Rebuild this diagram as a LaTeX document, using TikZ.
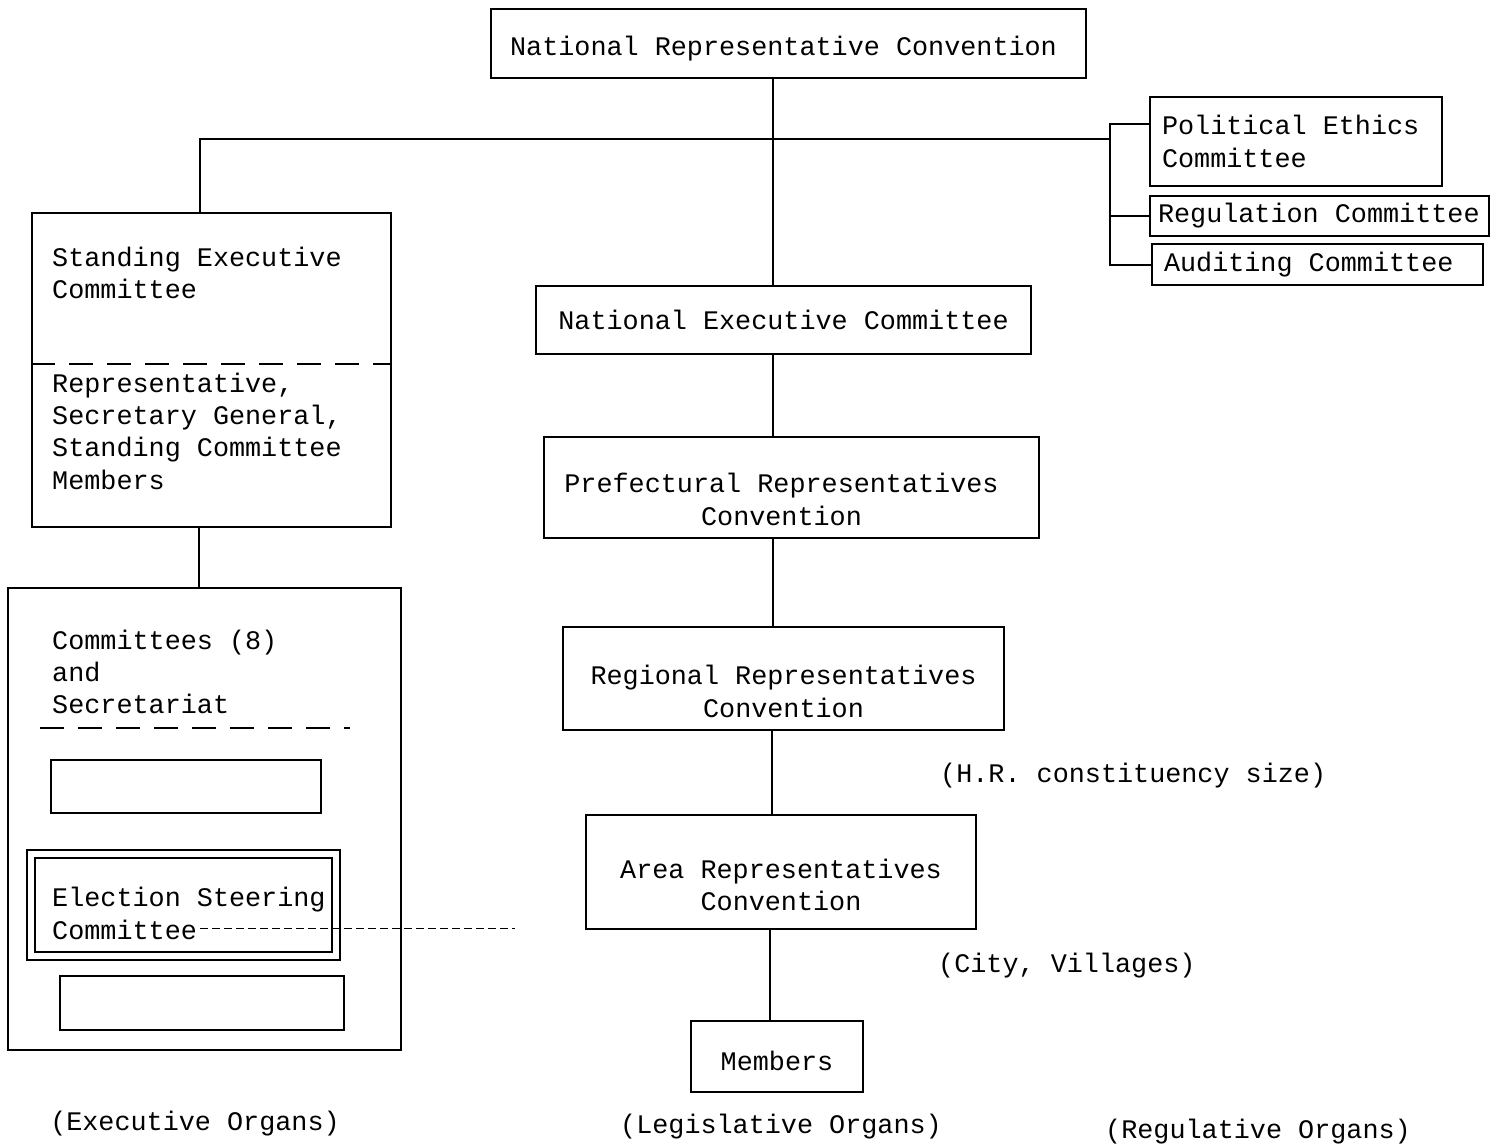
\documentclass[tikz,border=0pt]{standalone}
\usepackage{fontspec}
\newfontfamily\typewr[WordSpace={1,0,0}]{Liberation Mono}
\newcommand{\orgfont}{\fontsize{26.8}{32.3}\selectfont\typewr}
\tikzset{
  organ/.style={draw, line width=2pt, inner sep=0pt, align=center, font=\orgfont},
  leftorgan/.style={draw, line width=2pt, inner ysep=0pt, inner xsep=12pt, align=flush left, font=\orgfont},
  lbl/.style={inner sep=0pt, align=left, anchor=west, font=\orgfont},
  caption/.style={inner sep=0pt, align=center, font=\orgfont},
  link/.style={line width=2pt},
  divider/.style={line width=2pt, dash pattern=on 24pt off 14pt},
}
\begin{document}
\begin{tikzpicture}[x=1pt,y=-1pt]
    \useasboundingbox (0,0) rectangle (1503,1146);

    % Legislative organs
    \node[organ, minimum width=595, minimum height=69] (nrc) at (788.5,43.5) {};
    \node[caption] (nrctext) at ([xshift=-5pt,yshift=-5pt]nrc) {National Representative Convention};
    \node[organ, minimum width=495, minimum height=68] (nec) at (783.5,320) {National Executive Committee};
    \node[organ, minimum width=495, minimum height=101] (prc) at (791.5,487.5) {};
    \node[caption] (prctext) at ([xshift=-10pt,yshift=-12pt]prc) {Prefectural Representatives\\Convention};
    \node[organ, minimum width=441, minimum height=103] (rrc) at (783.5,678.5) {};
    \node[caption] (rrctext) at ([yshift=-13pt]rrc) {Regional Representatives\\Convention};
    \node[organ, minimum width=390, minimum height=114] (arc) at (781,872) {};
    \node[caption] (arctext) at ([yshift=-13pt]arc) {Area Representatives\\Convention};
    \node[organ, minimum width=172, minimum height=71] (mem) at (777,1056.5) {};
    \node[caption] (memtext) at ([yshift=-4pt]mem) {Members};

    \coordinate (spine) at (773,0);
    \draw[link] (spine |- nrc.south) -- (spine |- nec.north);
    \draw[link] (spine |- nec.south) -- (spine |- prc.north);
    \draw[link] (spine |- prc.south) -- (spine |- rrc.north);
    \draw[link] ([xshift=-12pt]rrc.south) -- ([xshift=-12pt]rrc.south |- arc.north);
    \draw[link] ([xshift=-11pt]arc.south) -- ([xshift=-11pt]arc.south |- mem.north);

    \node[lbl] (hr) at (940,776) {(H.R. constituency size)};
    \node[lbl] (city) at (938,966) {(City, Villages)};

    % Regulative organs
    \node[leftorgan, text width=268, minimum height=89] (pec) at (1296,141.5) {Political Ethics\\Committee};
    \node[leftorgan, inner xsep=8pt, text width=323, minimum height=40] (reg) at (1319.5,216) {Regulation Committee};
    \node[leftorgan, text width=307, minimum height=41] (aud) at (1317.5,264.5) {Auditing Committee};

    \coordinate (brk) at (1110,139);
    \draw[link] ([yshift=18pt]pec.west) -| (aud.west -| brk) -- (aud.west);
    \draw[link] (reg.west -| brk) -- (reg.west);

    % Executive organs
    \node[draw, link, minimum width=359, minimum height=314] (sec) at (211.5,370) {};
    \draw[divider] ([yshift=6pt]sec.west) -- ([yshift=6pt]sec.east);
    \node[lbl] (sectitle) at (52,273) {Standing Executive\\Committee};
    \node[lbl] (secmembers) at (52,431) {Representative,\\Secretary General,\\Standing Committee\\Members};

    \draw[link] ([xshift=-12pt]sec.north) |- (brk);

    \node[draw, link, minimum width=393, minimum height=462] (cmt) at (204.5,819) {};
    \draw[link] ([xshift=-13pt]sec.south) -- ([xshift=-13pt]sec.south |- cmt.north);
    \node[lbl] (cmttitle) at (52,672) {Committees (8)\\and\\Secretariat};
    \draw[divider] (40,728) -- (350,728);

    \node[draw, link, minimum width=270, minimum height=53] (blanka) at (186,786.5) {};
    \node[draw, line width=2pt, double, double distance=6pt, minimum width=305, minimum height=102] (esc) at (183,905) {};
    \node[lbl] (esctext) at (52,913.5) {Election Steering\\Committee};
    \node[draw, link, minimum width=284, minimum height=54] (blankb) at (202,1003) {};

    \coordinate (escstart) at (200,928);
    \coordinate (escend) at (515,928);
    \draw[line width=1pt, dash pattern=on 8pt off 4pt] (escstart) -- (escend);

    % Column captions
    \node[caption] (exec) at (195,1124) {(Executive Organs)};
    \node[caption] (legis) at (781,1127) {(Legislative Organs)};
    \node[caption] (regul) at (1258,1132) {(Regulative Organs)};
\end{tikzpicture}
\end{document}
